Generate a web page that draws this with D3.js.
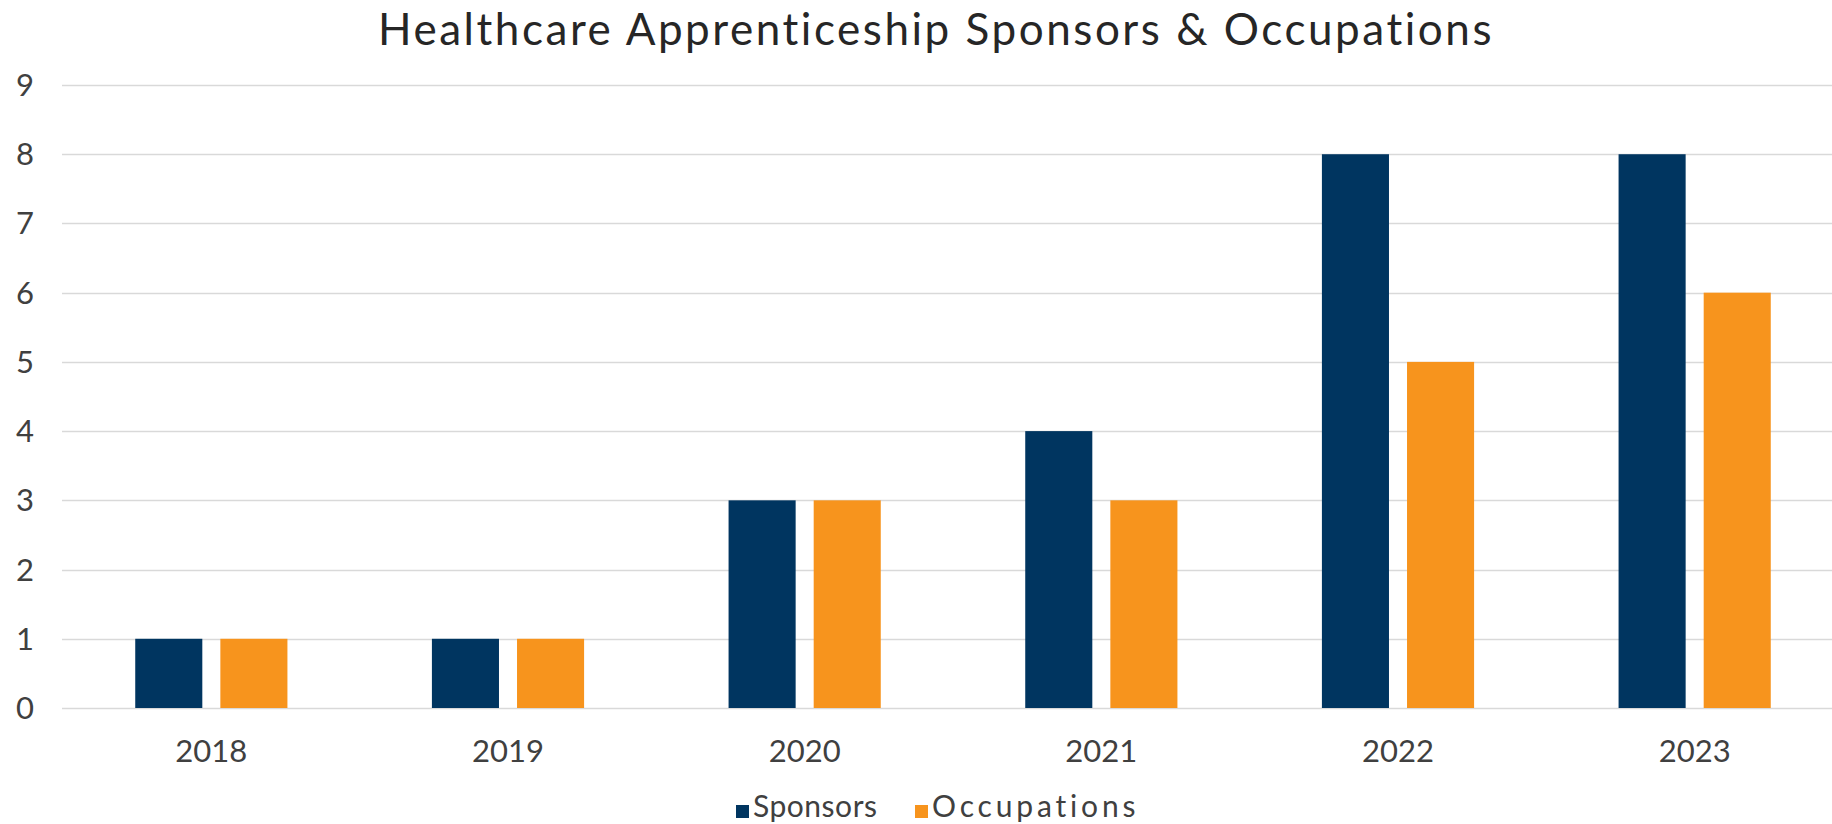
<!DOCTYPE html>
<html>
<head>
<meta charset="utf-8">
<script src="https://cdn.jsdelivr.net/npm/d3@7"></script>
<style>
  body { margin: 0; background: #fff; }
  svg { display: block; }
  text { font-family: Lato, "Open Sans", sans-serif; }
</style>
</head>
<body>
<div id="chart"></div>
<script>
// data
var years = ["2018", "2019", "2020", "2021", "2022", "2023"];
var seriesNames = ["Sponsors", "Occupations"];
var sponsors = [1, 1, 3, 4, 8, 8];
var occupations = [1, 1, 3, 3, 5, 6];
var yTicks = [0, 1, 2, 3, 4, 5, 6, 7, 8, 9];
var colors = ["#003560", "#f7941d"];

const width = 1832,
  height = 824;

var rows = years.map((y, i) => ({ year: y, values: [sponsors[i], occupations[i]] }));

var svg = d3
  .select("#chart")
  .append("svg")
  .attr("width", width)
  .attr("height", height);

// fit a text to a given width with letter spacing
const fitText = (sel, w) => {
  sel.each(function () {
    var t = d3.select(this);
    var tw = this.getComputedTextLength();
    var n = t.text().length;
    t.attr("letter-spacing", (w - tw) / (n - 1));
  });
};

// scales
const x = d3.scaleBand().domain(years).range([63, 1843]).paddingInner(0.487).paddingOuter(0.2435);
const xs = d3.scaleBand().domain(seriesNames).range([0, x.bandwidth()]).paddingInner(0.212);
const y = d3.scaleLinear().domain([0, 9]).range([708, 85]);

//gridlines
svg
  .append("g")
  .selectAll("line")
  .data(yTicks)
  .join("line")
  .attr("x1", 62)
  .attr("x2", width)
  .attr("y1", (d) => Math.round(y(d)) + 0.5)
  .attr("y2", (d) => Math.round(y(d)) + 0.5)
  .attr("stroke", "#d9d9d9")
  .attr("stroke-width", 1.5);

//y tick labels
svg
  .append("g")
  .selectAll("text")
  .data(yTicks)
  .join("text")
  .attr("x", 34)
  .attr("y", (d) => y(d) + 11)
  .attr("text-anchor", "end")
  .attr("font-size", 31)
  .attr("fill", "#404040")
  .text((d) => d);

//bars
var groups = svg
  .append("g")
  .selectAll("g")
  .data(rows)
  .join("g")
  .attr("transform", (d) => "translate(" + x(d.year) + ",0)");

groups
  .selectAll("rect")
  .data((d) => d.values.map((v, i) => ({ name: seriesNames[i], v: v, c: colors[i] })))
  .join("rect")
  .attr("x", (d) => xs(d.name))
  .attr("y", (d) => y(d.v))
  .attr("width", xs.bandwidth())
  .attr("height", (d) => y(0) - y(d.v))
  .attr("fill", (d) => d.c);

//x tick labels
svg
  .append("g")
  .selectAll("text")
  .data(years)
  .join("text")
  .attr("x", (d) => x(d) + x.bandwidth() / 2)
  .attr("y", 762)
  .attr("text-anchor", "middle")
  .attr("font-size", 31)
  .attr("fill", "#404040")
  .text((d) => d);

//title
svg
  .append("text")
  .attr("x", 936)
  .attr("y", 45)
  .attr("text-anchor", "middle")
  .attr("font-size", 44)
  .attr("fill", "#262626")
  .text("Healthcare Apprenticeship Sponsors & Occupations")
  .call(fitText, 1115);

//legend
var legendX = [736, 915];
var legendW = [124, 204];
var legend = svg
  .append("g")
  .selectAll("g")
  .data(seriesNames)
  .join("g")
  .attr("transform", (d, i) => "translate(" + legendX[i] + ",0)");

legend
  .append("rect")
  .attr("x", 0)
  .attr("y", 805)
  .attr("width", 13)
  .attr("height", 13)
  .attr("fill", (d, i) => colors[i]);

legend
  .append("text")
  .attr("x", 17)
  .attr("y", 817)
  .attr("font-size", 30)
  .attr("fill", "#404040")
  .text((d) => d)
  .each(function (d, i) {
    d3.select(this).call(fitText, legendW[i]);
  });
</script>
</body>
</html>
